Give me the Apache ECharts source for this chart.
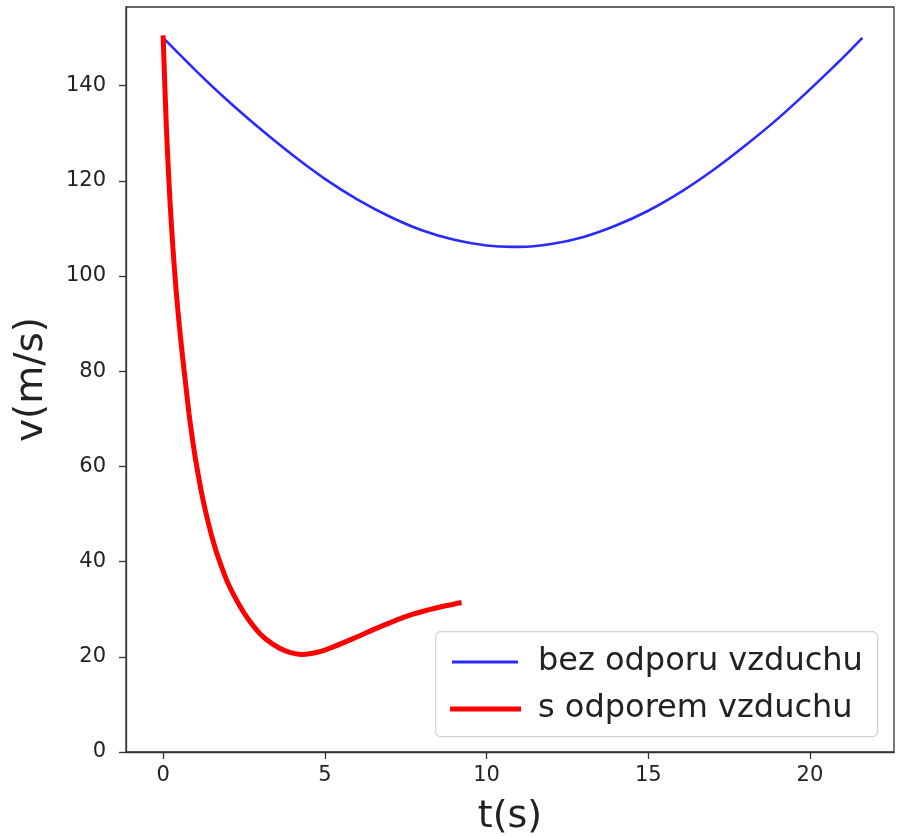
<!DOCTYPE html>
<html>
<head>
<meta charset="utf-8">
<script src="https://cdn.jsdelivr.net/npm/echarts@6/dist/echarts.min.js"></script>
<style>
html,body{margin:0;padding:0;background:#fff;}
#chart{width:899px;height:837px;}
</style>
</head>
<body>
<div id="chart"></div>
<script>
// Series: without air resistance (bez odporu vzduchu)
const tBlue = [0, 1, 2, 3, 4, 5, 6, 7, 8, 9, 10, 10.81, 11, 12, 13, 14, 15, 16, 17, 18, 19, 20, 21, 21.62];
const vBlue = [150.0, 143.2, 136.8, 130.9, 125.4, 120.4, 116.1, 112.5, 109.6, 107.6, 106.4, 106.1, 106.1, 106.7, 108.2, 110.6, 113.7, 117.6, 122.2, 127.4, 133.0, 139.2, 145.7, 150.0];
// Series: with air resistance (s odporem vzduchu)
const tRed = [0, 0.1, 0.2, 0.3, 0.4, 0.5, 0.6, 0.7, 0.8, 0.9, 1.0, 1.2, 1.4, 1.6, 1.8, 2.0, 2.3, 2.6, 3.0, 3.4, 3.8, 4.3, 4.8, 5.3, 5.9, 6.5, 7.1, 7.7, 8.4, 9.15];
const vRed = [150, 131, 117, 106, 97, 89.5, 83, 77, 71, 66, 61.5, 54, 48, 43, 39, 35.5, 31.5, 28.2, 24.8, 22.6, 21.2, 20.5, 21, 22.2, 23.9, 25.7, 27.4, 28.9, 30.2, 31.3];
const xTicks = [0, 5, 10, 15, 20];
const yTicks = [0, 20, 40, 60, 80, 100, 120, 140];
const names = ['bez odporu vzduchu', 's odporem vzduchu'];

const pairs = (xs, ys) => xs.map((x, i) => [x, ys[i]]);
const font = 'DejaVu Sans';
const chart = echarts.init(document.getElementById('chart'));
chart.setOption({
  animation: false,
  backgroundColor: '#fff',
  grid: {left: 126, right: 5, top: 7, bottom: 85, outerBoundsMode: 'none', containLabel: false,
         show: true, borderColor: '#333', borderWidth: 1.3, backgroundColor: 'transparent'},
  graphic: [{
    type: 'rect', left: 435, top: 631, z: 10,
    shape: {width: 442, height: 105, r: 5},
    style: {fill: 'rgba(255,255,255,0.8)', stroke: '#d0d0d0', lineWidth: 1.2}
  }],
  legend: [
    {data: [names[0]], left: 447, top: 641, itemWidth: 66, itemHeight: 3, itemGap: 0, icon: 'rect', z: 20,
     textStyle: {fontFamily: font, fontSize: 32, color: '#222', padding: [0, 0, 0, 15]}},
    {data: [names[1]], left: 445, top: 688, itemWidth: 71, itemHeight: 5, itemGap: 0, icon: 'rect', z: 20,
     textStyle: {fontFamily: font, fontSize: 32, color: '#222', padding: [0, 0, 0, 12]}}
  ],
  xAxis: {
    type: 'value', min: -1.15, max: 22.6,
    name: 't(s)', nameLocation: 'middle', nameGap: 46,
    nameTextStyle: {fontFamily: font, fontSize: 38, color: '#222'},
    axisLine: {show: true, onZero: false, lineStyle: {color: '#333', width: 1.3}},
    axisTick: {show: true, length: 7, customValues: xTicks, lineStyle: {color: '#333', width: 1.3}},
    axisLabel: {customValues: xTicks, fontFamily: font, fontSize: 21, color: '#222', margin: 13},
    splitLine: {show: false}
  },
  yAxis: {
    type: 'value', min: 0, max: 156.5,
    name: 'v(m/s)', nameLocation: 'middle', nameGap: 75,
    nameTextStyle: {fontFamily: font, fontSize: 39, color: '#222'},
    axisLine: {show: true, onZero: false, lineStyle: {color: '#333', width: 1.3}},
    axisTick: {show: true, length: 7, customValues: yTicks, lineStyle: {color: '#333', width: 1.3}},
    axisLabel: {customValues: yTicks, fontFamily: font, fontSize: 21, color: '#222', margin: 20},
    splitLine: {show: false}
  },
  series: [
    {name: names[0], type: 'line', data: pairs(tBlue, vBlue), smooth: 0.3, showSymbol: false,
     color: '#2a2aff', lineStyle: {color: '#2a2aff', width: 2.6}},
    {name: names[1], type: 'line', data: pairs(tRed, vRed), smooth: 0.3, showSymbol: false,
     color: '#ff0000', lineStyle: {color: '#ff0000', width: 5, cap: 'square'}}
  ]
});
</script>
</body>
</html>
